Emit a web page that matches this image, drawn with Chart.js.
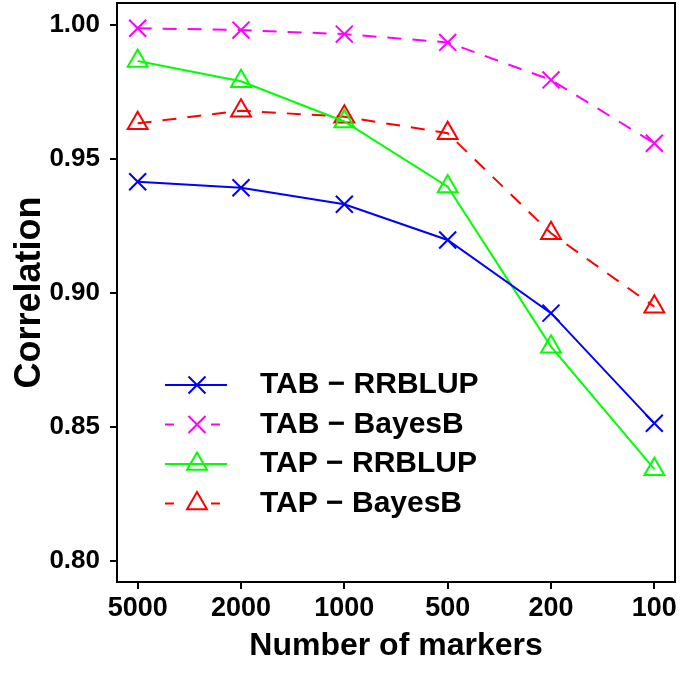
<!DOCTYPE html>
<html>
<head>
<meta charset="utf-8">
<script src="https://cdn.jsdelivr.net/npm/chart.js@4"></script>
<style>
  body { margin: 0; background: #fff; }
  #wrap { width: 685px; height: 676px; }
</style>
</head>
<body>
<div id="wrap"><canvas id="grafico"></canvas></div>
<script>
// valores
const markers = ['5000', '2000', '1000', '500', '200', '100']
const tabRrblup = [0.9415, 0.9393, 0.9331, 0.9198, 0.8925, 0.8514]
const tabBayesB = [0.9988, 0.9981, 0.9966, 0.9935, 0.9795, 0.9559]
const tapRrblup = [0.9866, 0.9790, 0.9640, 0.9397, 0.8800, 0.8343]
const tapBayesB = [0.9633, 0.9680, 0.9658, 0.9596, 0.9223, 0.8949]
const yTicks = [0.80, 0.85, 0.90, 0.95, 1.00]
const nomes = ['TAB \u2212 RRBLUP', 'TAB \u2212 BayesB', 'TAP \u2212 RRBLUP', 'TAP \u2212 BayesB']

function pontos(valores) {
    return valores.map((v, i) => ({ x: i + 1, y: v }))
}

function serie(nome, valores, cor, estilo, tracejado) {
    return {
        label: nome,
        data: pontos(valores),
        borderColor: cor,
        backgroundColor: 'rgba(0,0,0,0)',
        borderWidth: 2,
        borderDash: tracejado,
        pointStyle: estilo,
        pointRadius: estilo === 'triangle' ? 11.5 : 12,
        pointBorderWidth: 2,
        pointBorderColor: cor,
        pointBackgroundColor: 'rgba(0,0,0,0)',
        tension: 0
    }
}

const fonte = 'Liberation Sans, Arial, sans-serif'

// caixa em volta da area do grafico
const caixa = {
    id: 'caixa',
    afterDraw(chart) {
        const { ctx, chartArea: a } = chart
        ctx.save()
        ctx.strokeStyle = '#000'
        ctx.lineWidth = 2
        ctx.strokeRect(a.left, a.top, a.right - a.left, a.bottom - a.top)
        ctx.restore()
    }
}

// legenda desenhada dentro da area, estilo R
const legenda = {
    id: 'legenda',
    afterDraw(chart) {
        const { ctx, chartArea: a } = chart
        const x0 = a.left + 48
        const y0 = a.top + 382
        const passo = 39.5
        ctx.save()
        chart.data.datasets.forEach((ds, i) => {
            let y = y0 + i * passo
            ctx.strokeStyle = ds.borderColor
            ctx.lineWidth = 2
            ctx.setLineDash(ds.borderDash.length ? [9, 37] : [])
            ctx.beginPath()
            ctx.moveTo(x0, y)
            ctx.lineTo(x0 + 62, y)
            ctx.stroke()
            ctx.setLineDash([])
            ctx.fillStyle = 'rgba(0,0,0,0)'
            Chart.helpers.drawPoint(ctx, {
                pointStyle: ds.pointStyle,
                radius: ds.pointRadius,
                rotation: 0,
                borderWidth: 2
            }, x0 + 32, y)
            ctx.fillStyle = '#000'
            ctx.font = 'bold 30px ' + fonte
            ctx.textBaseline = 'middle'
            ctx.textAlign = 'left'
            ctx.fillText(ds.label, x0 + 95, y)
        })
        ctx.restore()
    }
}

const ctx = document.getElementById('grafico').getContext('2d')
const grafico = new Chart(ctx, {
    type: 'line',
    data: {
        datasets: [
            serie(nomes[0], tabRrblup, '#0000FF', 'crossRot', []),
            serie(nomes[1], tabBayesB, '#FF00FF', 'crossRot', [14, 11]),
            serie(nomes[2], tapRrblup, '#00FF00', 'triangle', []),
            serie(nomes[3], tapBayesB, '#FF0000', 'triangle', [14, 11])
        ]
    },
    options: {
        responsive: true,
        maintainAspectRatio: false,
        animation: false,
        layout: { autoPadding: false, padding: { top: 3, right: 10, left: 0, bottom: 0 } },
        plugins: {
            legend: { display: false },
            tooltip: { enabled: false }
        },
        scales: {
            x: {
                type: 'linear',
                min: 0.8,
                max: 6.2,
                afterBuildTicks: axis => { axis.ticks = markers.map((m, i) => ({ value: i + 1 })) },
                afterFit: axis => {
                    axis.height = 94
                    axis.paddingLeft = 0
                    axis.paddingRight = 0
                },
                border: { display: false },
                grid: { drawOnChartArea: false, drawTicks: true, tickLength: 7, color: '#000', lineWidth: 2 },
                ticks: {
                    color: '#000',
                    padding: 3,
                    maxRotation: 0,
                    autoSkip: false,
                    font: { family: fonte, size: 27, weight: 'bold' },
                    callback: value => markers[value - 1]
                },
                title: {
                    display: true,
                    text: 'Number of markers',
                    color: '#000',
                    padding: { top: 0, bottom: 11 },
                    font: { family: fonte, size: 32, weight: 'bold' }
                }
            },
            y: {
                min: 0.7922,
                max: 1.0082,
                afterBuildTicks: axis => { axis.ticks = yTicks.map(v => ({ value: v })) },
                afterFit: axis => {
                    axis.width = 117
                    axis.paddingTop = 0
                    axis.paddingBottom = 0
                },
                border: { display: false },
                grid: { drawOnChartArea: false, drawTicks: true, tickLength: 7, color: '#000', lineWidth: 2 },
                ticks: {
                    color: '#000',
                    padding: 10,
                    font: { family: fonte, size: 26, weight: 'bold' },
                    callback: value => value.toFixed(2)
                },
                title: {
                    display: true,
                    text: 'Correlation',
                    color: '#000',
                    padding: { top: 8, bottom: 0 },
                    font: { family: fonte, size: 36, weight: 'bold' }
                }
            }
        }
    },
    plugins: [caixa, legenda]
})
</script>
</body>
</html>
